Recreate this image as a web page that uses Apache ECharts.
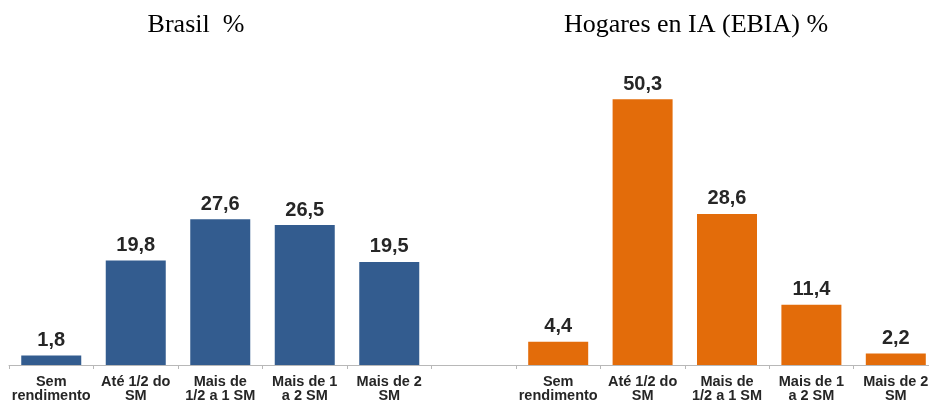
<!DOCTYPE html>
<html>
<head>
<meta charset="utf-8">
<script src="https://cdn.jsdelivr.net/npm/echarts@6/dist/echarts.min.js"></script>
<style>html,body{margin:0;padding:0;background:#fff}#c{width:929px;height:402px}</style>
</head>
<body>
<div id="c"></div>
<script>
var categories = ['Sem\nrendimento', 'Até 1/2 do\nSM', 'Mais de\n1/2 a 1 SM', 'Mais de 1\na 2 SM', 'Mais de 2\nSM'];
var brasilValues = [1.8, 19.8, 27.6, 26.5, 19.5];
var hogaresValues = [4.4, 50.3, 28.6, 11.4, 2.2];
var titles = ['Brasil  %', 'Hogares en IA (EBIA) %'];

var chart = echarts.init(document.getElementById('c'), null, {renderer: 'canvas'});
var labelFont = 'Liberation Sans, Arial, sans-serif';
function fmt(p) { return String(p.value).replace('.', ','); }
function xAxisCfg(idx, cats) {
  return {
    type: 'category', gridIndex: idx, data: cats,
    axisLine: {show: true, lineStyle: {color: '#B8B8B8', width: 1}},
    axisTick: {show: true, alignWithLabel: false, length: 4, lineStyle: {color: '#B8B8B8'}},
    axisLabel: {interval: 0, fontSize: 14.5, fontWeight: 'bold', lineHeight: 14, margin: 10,
      color: '#262626', fontFamily: labelFont, hideOverlap: false}
  };
}
function yAxisCfg(idx) {
  return {type: 'value', gridIndex: idx, min: 0, max: 60, show: false, splitLine: {show: false}};
}
function seriesCfg(idx, data, color) {
  return {
    type: 'bar', xAxisIndex: idx, yAxisIndex: idx, data: data, barWidth: 60,
    itemStyle: {color: color},
    label: {show: true, position: 'top', distance: 5, formatter: fmt, fontSize: 20,
      fontWeight: 'bold', color: '#262626', fontFamily: labelFont},
    animation: false
  };
}
chart.setOption({
  animation: false,
  title: [
    {text: titles[0], left: 191, top: 7, textAlign: 'center',
     textStyle: {fontFamily: 'Liberation Serif, Times New Roman, serif', fontSize: 26, fontWeight: 'normal', color: '#000'}},
    {text: titles[1], left: 691, top: 7, textAlign: 'center',
     textStyle: {fontFamily: 'Liberation Serif, Times New Roman, serif', fontSize: 26, fontWeight: 'normal', color: '#000'}}
  ],
  grid: [
    {left: 9, width: 507, top: 48, bottom: 37, containLabel: false, outerBoundsMode: 'none'},
    {left: 516, width: 422, top: 48, bottom: 37, containLabel: false, outerBoundsMode: 'none'}
  ],
  xAxis: [xAxisCfg(0, categories.concat([''])), xAxisCfg(1, categories)],
  yAxis: [yAxisCfg(0), yAxisCfg(1)],
  series: [seriesCfg(0, brasilValues, '#335C8F'), seriesCfg(1, hogaresValues, '#E36C0A')]
});
</script>
</body>
</html>
